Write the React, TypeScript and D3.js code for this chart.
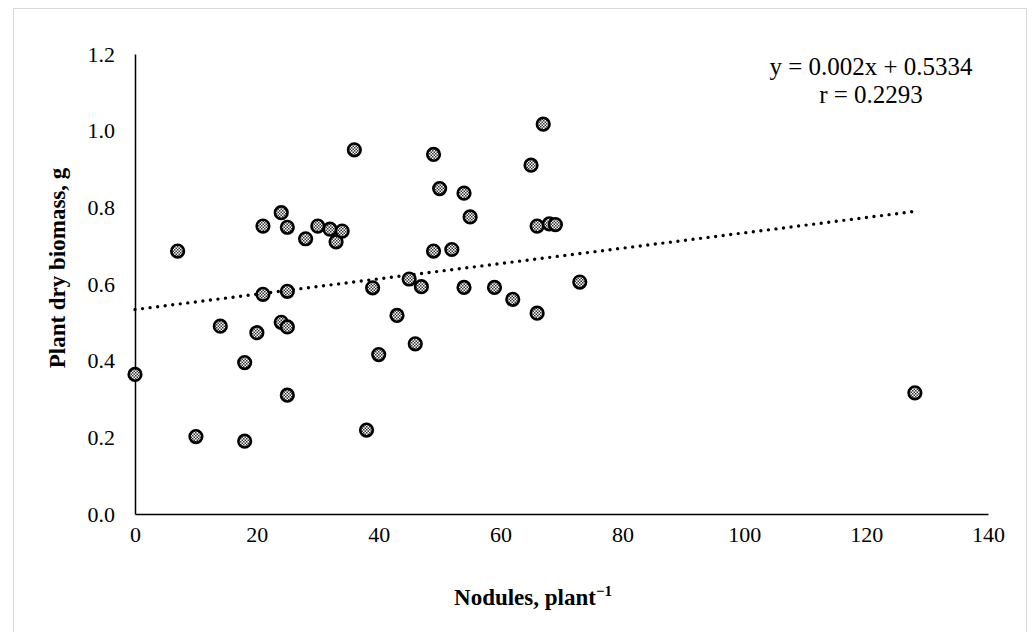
import React, { useEffect, useRef } from 'react';
import * as d3 from 'd3';

// nodules per plant vs plant dry biomass (g)
const nodules = [
  0, 7, 10, 14, 18, 18, 20, 21, 21, 24, 24, 25, 25, 25, 25, 28, 30, 32, 33, 34,
  36, 38, 39, 40, 43, 45, 46, 47, 49, 49, 50, 52, 54, 54, 55, 59, 62, 65, 66, 66,
  67, 68, 69, 73, 128,
];
const biomass = [
  0.364, 0.686, 0.202, 0.49, 0.395, 0.19, 0.473, 0.751, 0.573, 0.786, 0.5, 0.748,
  0.581, 0.488, 0.31, 0.718, 0.751, 0.743, 0.71, 0.738, 0.95, 0.219, 0.59, 0.416,
  0.518, 0.613, 0.444, 0.593, 0.938, 0.686, 0.849, 0.69, 0.837, 0.591, 0.775,
  0.591, 0.56, 0.91, 0.751, 0.524, 1.017, 0.757, 0.755, 0.605, 0.316,
];
const xTicks = [0, 20, 40, 60, 80, 100, 120, 140];
const yTicks = [0, 0.2, 0.4, 0.6, 0.8, 1.0, 1.2];
const slope = 0.002;
const intercept = 0.5334;
const trendRange = [0, 128];
const equationLines = ['y = 0.002x + 0.5334', 'r = 0.2293'];

const W = 1033;
const H = 632;
const FONT = '"Liberation Serif", "Times New Roman", serif';

const App = () => {
  const ref = useRef<SVGSVGElement>(null);

  useEffect(() => {
    const svg = d3.select(ref.current);
    svg.selectAll('*').remove();

    const x = d3.scaleLinear().domain([0, 140]).range([135, 988]);
    const y = d3.scaleLinear().domain([0, 1.2]).range([514, 54]);

    // marker fill pattern (grey checker)
    const defs = svg.append('defs');
    const pat = defs
      .append('pattern')
      .attr('id', 'chk')
      .attr('patternUnits', 'userSpaceOnUse')
      .attr('width', 3)
      .attr('height', 3);
    pat.append('rect').attr('width', 3).attr('height', 3).attr('fill', '#fff');
    pat.append('rect').attr('width', 1.5).attr('height', 1.5).attr('fill', '#333');
    pat.append('rect').attr('x', 1.5).attr('y', 1.5).attr('width', 1.5).attr('height', 1.5).attr('fill', '#333');

    // outer frame
    svg
      .append('rect')
      .attr('x', 13.5)
      .attr('y', 8.5)
      .attr('width', 1013)
      .attr('height', 640)
      .attr('fill', 'none')
      .attr('stroke', '#d9d9d9');

    const xAxis = svg
      .append('g')
      .attr('transform', `translate(0,${y(0)})`)
      .call(d3.axisBottom(x).tickValues(xTicks).tickSize(0).tickPadding(12).tickFormat(d3.format('d')));
    const yAxis = svg
      .append('g')
      .attr('transform', `translate(${x(0)},0)`)
      .call(d3.axisLeft(y).tickValues(yTicks).tickSize(0).tickPadding(20).tickFormat(d3.format('.1f')));

    [xAxis, yAxis].forEach(g => {
      g.select('.domain').attr('stroke', '#000').attr('stroke-width', 1.5);
      g.selectAll('text').attr('font-family', FONT).attr('font-size', 22).attr('fill', '#000');
    });

    // trend line
    svg
      .append('line')
      .attr('x1', x(trendRange[0]))
      .attr('y1', y(intercept + slope * trendRange[0]))
      .attr('x2', x(trendRange[1]))
      .attr('y2', y(intercept + slope * trendRange[1]))
      .attr('stroke', '#000')
      .attr('stroke-width', 3.4)
      .attr('stroke-linecap', 'round')
      .attr('stroke-dasharray', '0 7.6');

    // points
    svg
      .append('g')
      .selectAll('circle')
      .data(nodules.map((n, i) => [n, biomass[i]]))
      .enter()
      .append('circle')
      .attr('cx', d => x(d[0]))
      .attr('cy', d => y(d[1]))
      .attr('r', 6.3)
      .attr('fill', 'url(#chk)')
      .attr('stroke', '#000')
      .attr('stroke-width', 2.6);

    // equation
    svg
      .append('g')
      .selectAll('text')
      .data(equationLines)
      .enter()
      .append('text')
      .attr('x', 871)
      .attr('y', (d, i) => 75 + i * 27.5)
      .attr('text-anchor', 'middle')
      .attr('font-family', FONT)
      .attr('font-size', 25)
      .text(d => d);

    // axis titles
    const xt = svg
      .append('text')
      .attr('x', 533)
      .attr('y', 605)
      .attr('text-anchor', 'middle')
      .attr('font-family', FONT)
      .attr('font-size', 23)
      .attr('font-weight', 'bold');
    xt.append('tspan').text('Nodules, plant');
    xt.append('tspan').attr('font-size', 15).attr('dy', -9).text('\u22121');

    svg
      .append('text')
      .attr('transform', 'translate(65,268) rotate(-90)')
      .attr('text-anchor', 'middle')
      .attr('font-family', FONT)
      .attr('font-size', 23)
      .attr('font-weight', 'bold')
      .text('Plant dry biomass, g');
  }, []);

  return (
    <svg
      ref={ref}
      width={W}
      height={H}
      style={{ position: 'absolute', left: 0, top: 0, background: '#fff' }}
    />
  );
};

export default App;
